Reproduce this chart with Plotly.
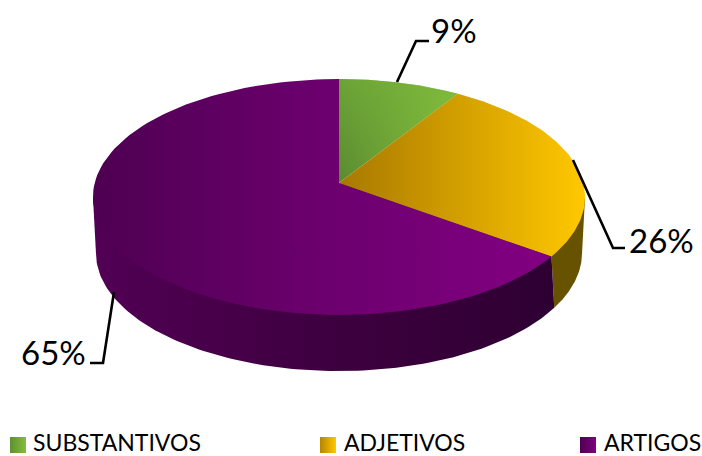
import math
import plotly.graph_objects as go

# Data
categories = ["SUBSTANTIVOS", "ADJETIVOS", "ARTIGOS"]
values = [9, 26, 65]
labels = ["9%", "26%", "65%"]

# Styles
top_scales = [["#5a8a30", "#84bd3c"], ["#a87800", "#ffc800"], ["#4e0052", "#6c006e", "#820082"]]
wall_scales = [None, ["#6b5500", "#665200"], ["#520054", "#3e0040", "#2e0032"]]
swatch_scales = [["#5e9030", "#84bd3c"], ["#b88400", "#ffc800"], ["#4e0052", "#800080"]]

W, H = 702, 456
CX, CY = 339, 183
TOP_RING = dict(a=244.3, b=116.3, k=0.1186, y0=183)
BASE_RING = dict(a=239.5, b=114.6, k=0.17, y0=233)


def project(theta, ring=TOP_RING):
    u, v = math.sin(theta), math.cos(theta)
    w = 1 + ring["k"] * v
    return CX + ring["a"] * u / w, ring["y0"] - ring["b"] * v / w


def arc(a, b, ring=TOP_RING, n=120):
    pts = [project(a + (b - a) * i / n, ring) for i in range(n + 1)]
    return [p[0] for p in pts], [p[1] for p in pts]


def right_extreme(ring):
    return math.acos(-ring["k"])


def left_extreme(ring):
    return 2 * math.pi - math.acos(-ring["k"])


def scale(cols):
    return [[i / (len(cols) - 1), c] for i, c in enumerate(cols)]


fig = go.Figure()

total = sum(values)
angles = [0]
for val in values:
    angles.append(angles[-1] + val / total * 2 * math.pi)

# Side walls (drawn first, top faces cover the hidden parts)
wall_spans = [
    None,
    (right_extreme(TOP_RING), right_extreme(BASE_RING), angles[2], angles[2]),
    (angles[2], angles[2], left_extreme(BASE_RING), left_extreme(TOP_RING)),
]
for span, cols in zip(wall_spans, wall_scales):
    if span is None:
        continue
    top_a, base_a, base_b, top_b = span
    xa, ya = project(top_a)
    xb, yb = project(top_b)
    x2, y2 = arc(base_a, base_b, BASE_RING)
    fig.add_trace(go.Scatter(x=[CX, xa] + x2 + [xb, CX], y=[CY, ya] + y2 + [yb, CY],
                             mode="lines", fill="toself",
                             line=dict(width=0), hoverinfo="skip", showlegend=False,
                             fillgradient=dict(type="horizontal", colorscale=scale(cols))))

# Top faces
for i, cat in enumerate(categories):
    xs, ys = arc(angles[i], angles[i + 1])
    xs = [CX] + xs + [CX]
    ys = [CY] + ys + [CY]
    fig.add_trace(go.Scatter(x=xs, y=ys, mode="lines", fill="toself", name=cat,
                             line=dict(width=0), showlegend=False,
                             fillgradient=dict(type="horizontal", colorscale=scale(top_scales[i]))))
    if i == 0:
        fig.add_trace(go.Scatter(x=xs, y=ys, mode="lines", fill="toself",
                                 line=dict(width=0), hoverinfo="skip", showlegend=False,
                                 fillgradient=dict(type="vertical", colorscale=[
                                     [0, "rgba(122,184,60,0)"], [1, "rgba(122,184,60,0.55)"]])))

# Leader lines
leaders = [
    ([397, 416, 429], [82, 41, 41]),
    ([573, 613, 625], [160, 248, 248]),
    ([114, 103, 90], [292, 363, 363]),
]
for lx, ly in leaders:
    fig.add_trace(go.Scatter(x=lx, y=ly, mode="lines", hoverinfo="skip", showlegend=False,
                             line=dict(color="#000000", width=2.6)))

# Legend swatches
legend_x = [10, 320, 580]
for x0, cols in zip(legend_x, swatch_scales):
    fig.add_trace(go.Scatter(x=[x0, x0 + 16, x0 + 16, x0, x0], y=[437, 437, 453, 453, 437],
                             mode="lines", fill="toself", line=dict(width=0),
                             hoverinfo="skip", showlegend=False,
                             fillgradient=dict(type="horizontal", colorscale=scale(cols))))

annotations = []
for txt, x, y in zip(labels, [454, 661, 53], [30, 240, 352]):
    annotations.append(dict(x=x, y=y, text=txt, showarrow=False, xref="x", yref="y",
                            font=dict(family="Lato", size=33, color="#000000")))
for txt, x in zip(categories, [31, 341.5, 602]):
    annotations.append(dict(x=x, y=442, text=txt, showarrow=False, xref="x", yref="y",
                            xanchor="left", font=dict(family="Lato", size=23, color="#000000")))

fig.update_layout(
    width=W, height=H, margin=dict(l=0, r=0, t=0, b=0),
    paper_bgcolor="white", plot_bgcolor="white", showlegend=False,
    xaxis=dict(range=[0, W], visible=False, fixedrange=True),
    yaxis=dict(range=[H, 0], visible=False, fixedrange=True),
    annotations=annotations,
)
fig.write_html("out.html", config=dict(displayModeBar=False),
               post_script="document.body.style.margin='0';document.body.style.overflow='hidden';")
